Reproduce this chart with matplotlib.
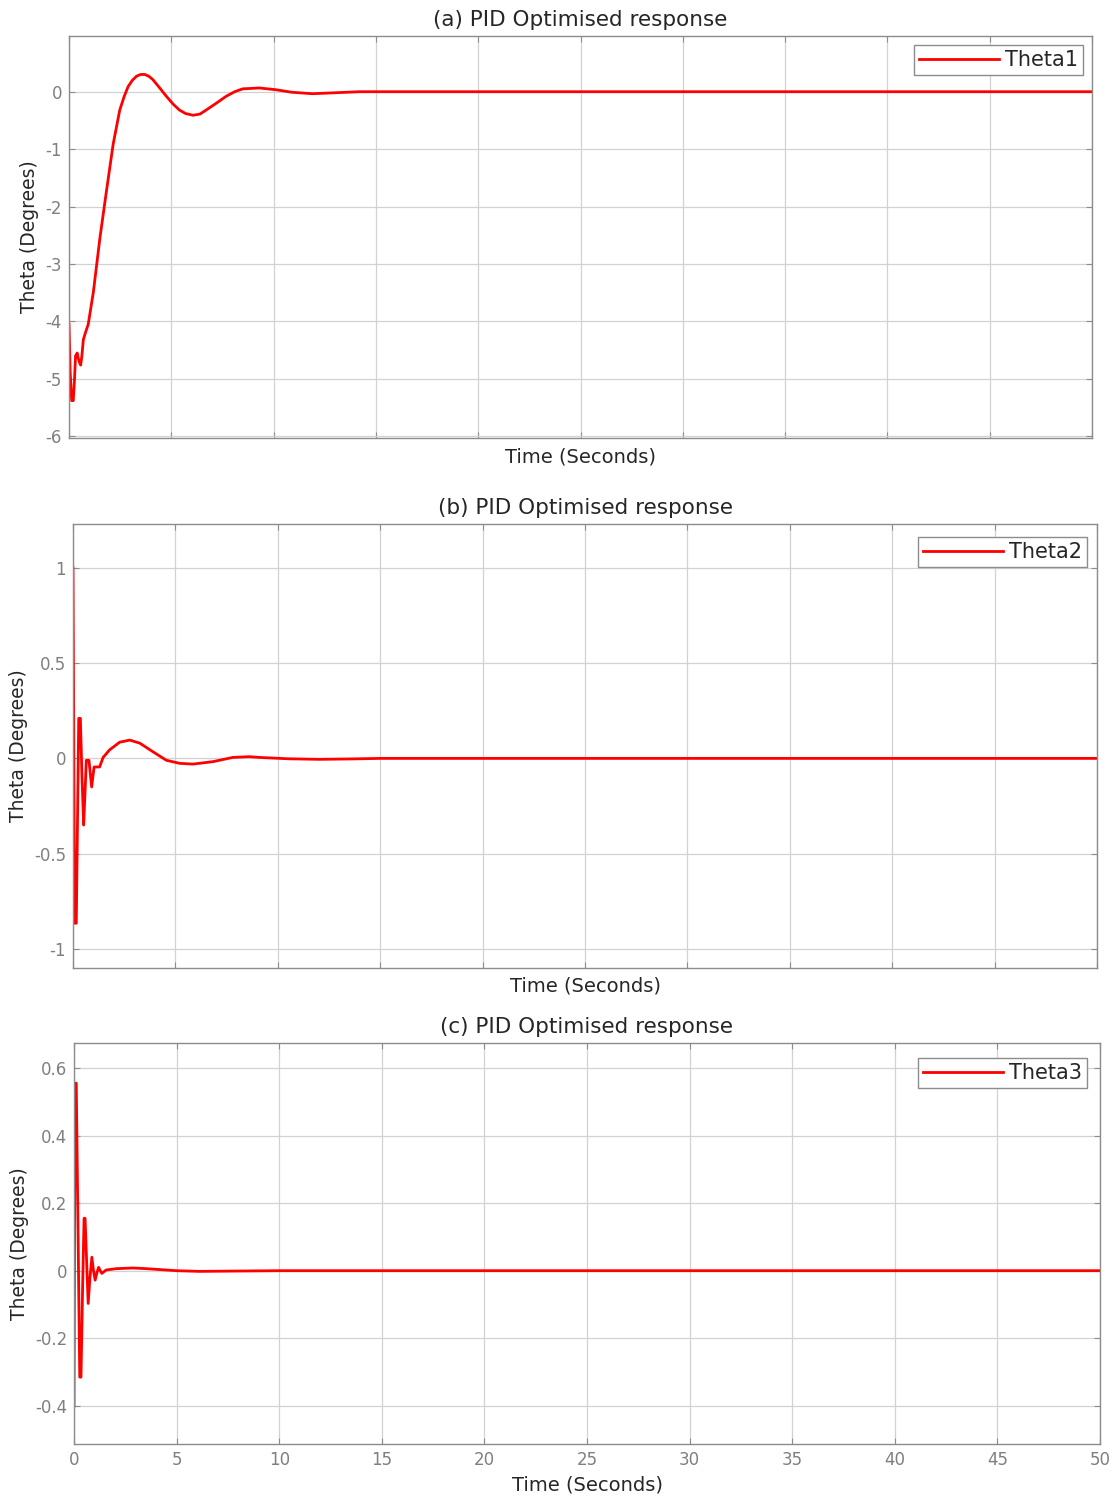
import numpy as np
import matplotlib
matplotlib.use("Agg")
import matplotlib.pyplot as plt

plt.rcParams['font.family'] = ['DejaVu Sans']
plt.rcParams['axes.unicode_minus'] = False

# Theta1 response (seconds, degrees)
t1 = [0, 0.06, 0.13, 0.21, 0.27, 0.32, 0.40, 0.45, 0.52, 0.57, 0.63, 0.70, 0.80, 0.94,
      1.19, 1.51, 1.83, 2.16, 2.48, 2.70, 2.89, 3.10, 3.30, 3.50, 3.70, 3.90, 4.10, 4.40,
      4.76, 5.10, 5.40, 5.70, 6.06, 6.40, 6.70, 7.20, 7.68, 8.10, 8.49, 9.30, 10.1,
      10.9, 11.9, 12.9, 14.2, 16.1, 20, 30, 40, 50]
theta1 = [-4.05, -4.9, -5.38, -5.38, -5.0, -4.6, -4.55, -4.64, -4.72, -4.76, -4.6, -4.32,
          -4.2, -4.05, -3.49, -2.55, -1.73, -0.91, -0.32, -0.08, 0.09, 0.20, 0.27, 0.30,
          0.30, 0.27, 0.21, 0.08, -0.08, -0.22, -0.32, -0.38, -0.41, -0.39, -0.32, -0.2,
          -0.08, 0.0, 0.05, 0.065, 0.035, -0.01, -0.035, -0.02, 0.0, 0.0, 0.0, 0.0, 0.0, 0.0]

# Theta2 response
t2 = [0, 0.08, 0.16, 0.28, 0.36, 0.44, 0.52, 0.58, 0.65, 0.78, 0.91, 1.03, 1.17, 1.30,
      1.47, 1.79, 2.28, 2.77, 3.26, 3.90, 4.56, 5.21, 5.86, 6.84, 7.80, 8.60, 9.10,
      10.5, 12.0, 13.5, 15, 20, 30, 40, 50]
theta2 = [1.0, -0.865, -0.865, 0.21, 0.21, -0.1, -0.35, -0.2, -0.01, -0.01, -0.15,
          -0.045, -0.045, -0.045, 0.005, 0.045, 0.085, 0.096, 0.08, 0.035, -0.01, -0.026,
          -0.03, -0.017, 0.005, 0.009, 0.005, -0.002, -0.005, -0.003, 0.0, 0.0, 0.0, 0.0, 0.0]

# Theta3 response
t3 = [0, 0.05, 0.11, 0.20, 0.28, 0.34, 0.42, 0.49, 0.54, 0.62, 0.69, 0.78, 0.87, 0.95,
      1.03, 1.12, 1.20, 1.28, 1.36, 1.56, 2.05, 2.87, 3.52, 5.0, 6.1, 8, 10, 20, 30, 40, 50]
theta3 = [-0.40, 0.555, 0.555, 0.1, -0.315, -0.315, -0.05, 0.155, 0.155, 0.02, -0.097,
          -0.02, 0.04, 0.0, -0.028, -0.005, 0.01, 0.0, -0.008, 0.002, 0.006, 0.008, 0.006,
          0.0, -0.002, -0.001, 0.0, 0.0, 0.0, 0.0, 0.0]

panels = [
    ("(a) PID Optimised response", t1, theta1, "Theta1", [0, -1, -2, -3, -4, -5, -6], (-6.03, 0.97)),
    ("(b) PID Optimised response", t2, theta2, "Theta2", [-1, -0.5, 0, 0.5, 1], (-1.10, 1.23)),
    ("(c) PID Optimised response", t3, theta3, "Theta3", [-0.4, -0.2, 0, 0.2, 0.4, 0.6], (-0.513, 0.674)),
]
xticks = [0, 5, 10, 15, 20, 25, 30, 35, 40, 45, 50]

W, H = 1116, 1497
boxes = [(69, 1092, 36, 438), (73, 1097, 524, 968), (74, 1100, 1043, 1444)]
ylab_x = [30, 18, 20]
xlab_y = [457, 986, 1485]
title_y = [20, 508, 1027]
leg_xy = [(1083, 45), (1087, 537), (1087, 1058)]

fig = plt.figure(figsize=(W / 100, H / 100), dpi=100)
dark = "#262626"
grey = "#7f7f7f"

for i, (title, t, y, name, yt, ylim) in enumerate(panels):
    l, r, top, bot = boxes[i]
    ax = fig.add_axes([l / W, 1 - bot / H, (r - l) / W, (bot - top) / H])
    ax.plot(t, y, color="red", lw=2.0, label=name)
    ax.set_xlim(0, 50)
    ax.set_ylim(*ylim)
    ax.set_xticks(xticks)
    ax.set_yticks(yt)
    ax.set_yticklabels([("%g" % v) for v in yt])
    if i < 2:
        ax.set_xticklabels([])
    ax.grid(True, color="#d2d2d2", lw=0.9)
    ax.set_axisbelow(True)
    for s in ax.spines.values():
        s.set_color("#8c8c8c")
        s.set_linewidth(1.0)
    ax.tick_params(direction="in", top=True, right=True, length=4, width=0.8,
                   color="#8c8c8c", labelcolor=grey, labelsize=12, pad=5)

    h = bot - top
    ax.text(0.5, (bot - title_y[i]) / h, title, transform=ax.transAxes,
            ha="center", va="center", fontsize=15.5, color=dark)
    ax.set_xlabel("Time (Seconds)", fontsize=14, color=dark)
    ax.xaxis.set_label_coords(0.5, (bot - xlab_y[i]) / h)
    ax.xaxis.label.set_va("center")
    ax.set_ylabel("Theta (Degrees)", fontsize=13.5, color=dark)
    ax.yaxis.set_label_coords((ylab_x[i] - l) / (r - l), 0.5)
    ax.yaxis.label.set_va("center")

    lx, ly = leg_xy[i]
    leg = ax.legend(loc="upper right", bbox_to_anchor=((lx - l) / (r - l), (bot - ly) / h),
                    borderaxespad=0, fancybox=False, framealpha=1, edgecolor="#8c8c8c",
                    fontsize=15, handlelength=3.8, borderpad=0.25, handletextpad=0.3)
    leg.get_frame().set_linewidth(1.0)
    for txt in leg.get_texts():
        txt.set_color(dark)

fig.savefig("out.png", dpi=100)
